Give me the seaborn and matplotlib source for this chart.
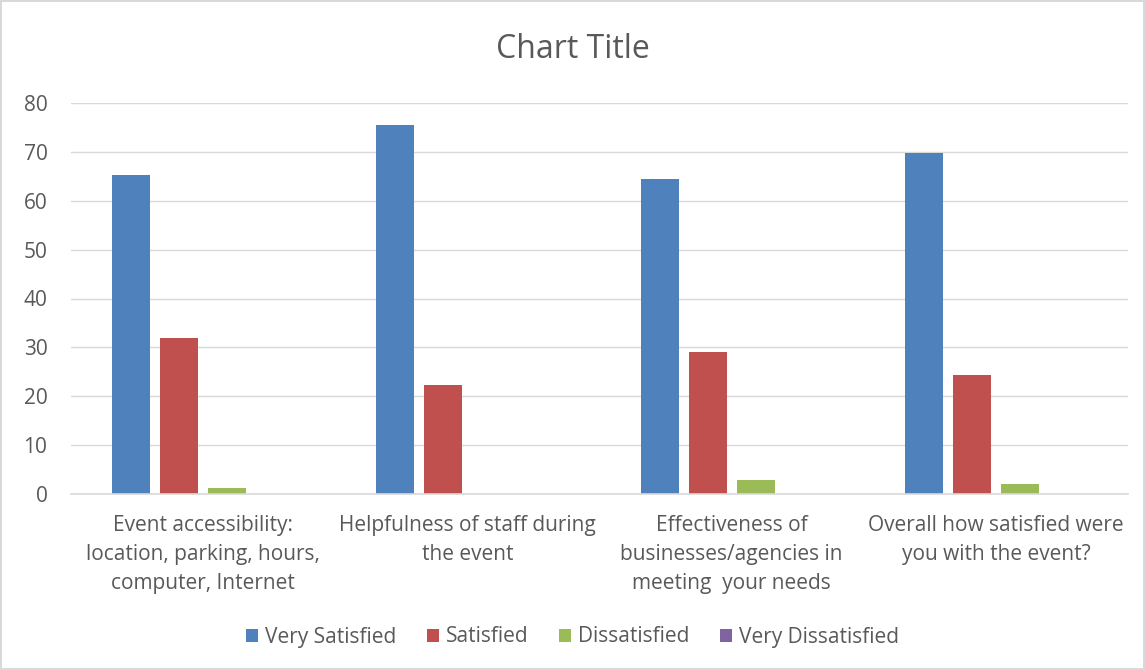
import pandas as pd
import seaborn as sns
import matplotlib.pyplot as plt

# ========== DATA ==========
categories = [
    "Event accessibility:\nlocation, parking, hours,\ncomputer, Internet",
    "Helpfulness of staff during\nthe event",
    "Effectiveness of\nbusinesses/agencies in\nmeeting  your needs",
    "Overall how satisfied were\nyou with the event?",
]
series = ["Very Satisfied", "Satisfied", "Dissatisfied", "Very Dissatisfied"]
very_satisfied = [65.3, 75.4, 64.5, 69.8]
satisfied = [32.0, 22.2, 29.1, 24.4]
dissatisfied = [1.2, 0, 2.8, 2.1]
very_dissatisfied = [0, 0, 0, 0]

colors = ["#4F81BD", "#C0504D", "#9BBB59", "#8064A2"]

df = pd.DataFrame({
    "Category": categories * 4,
    "Response": [s for s in series for _ in categories],
    "Value": very_satisfied + satisfied + dissatisfied + very_dissatisfied,
})

# ========== PLOT ==========
sns.set_style("white")
plt.rcParams["font.family"] = ["Open Sans", "DejaVu Sans"]
text_color = "#595959"

fig = plt.figure(figsize=(11.45, 6.70), dpi=100)
ax = fig.add_axes([71 / 1145, 1 - 494 / 670, 1057 / 1145, 391 / 670])

sns.barplot(data=df, x="Category", y="Value", hue="Response",
            palette=colors, width=0.727, gap=0.21, ax=ax,
            edgecolor="none", linewidth=0, saturation=1, errorbar=None)

ax.set_ylim(0, 80)
ax.set_xlim(-0.5, 3.5)
ax.set_yticks(range(0, 81, 10))
ax.yaxis.grid(True, color="#D9D9D9", linewidth=1)
ax.set_axisbelow(True)
for side in ["top", "right", "left"]:
    ax.spines[side].set_visible(False)
ax.spines["bottom"].set_color("#D9D9D9")
ax.spines["bottom"].set_linewidth(1.2)
ax.tick_params(axis="y", length=0, pad=17, labelsize=15, labelcolor=text_color)
ax.tick_params(axis="x", length=0, pad=15, labelsize=15, labelcolor=text_color)
for lbl in ax.get_xticklabels():
    lbl.set_linespacing(1.5)
ax.set_xlabel("")
ax.set_ylabel("")

fig.text(0.5, 1 - 50 / 670, "Chart Title", ha="center", va="center",
         fontsize=23, color=text_color)

handles, labels = ax.get_legend_handles_labels()
ax.legend_.remove()
fig.legend(handles, labels, loc="center", bbox_to_anchor=(0.5, 1 - 637 / 670),
           ncol=4, frameon=False, fontsize=15, labelcolor=text_color,
           handlelength=0.6, handleheight=0.6, handletextpad=0.33, columnspacing=1.45)

fig.patch.set_edgecolor("#D9D9D9")
fig.patch.set_linewidth(1.5)
fig.savefig("out.png", dpi=100, edgecolor=fig.get_edgecolor())
